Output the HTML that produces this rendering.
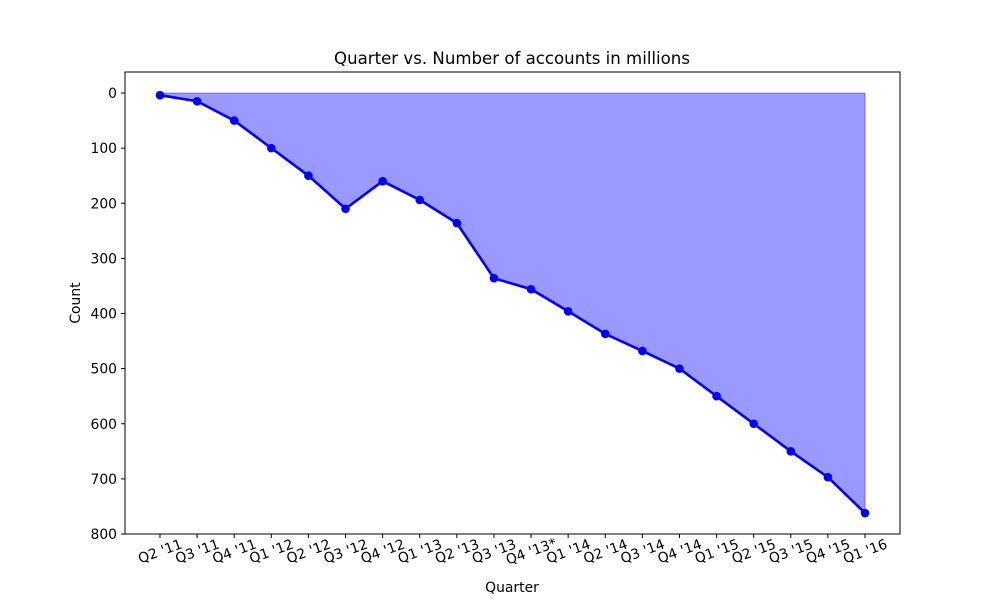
<!DOCTYPE html>
<html><head><meta charset="utf-8"><style>body{margin:0;background:#fff}svg{font-family:"DejaVu Sans","Liberation Sans",sans-serif}</style></head>
<body>
<svg id="c" width="1000" height="600"></svg>
<script>
const categories=["Q2 '11","Q3 '11","Q4 '11","Q1 '12","Q2 '12","Q3 '12","Q4 '12","Q1 '13","Q2 '13","Q3 '13","Q4 '13*","Q1 '14","Q2 '14","Q3 '14","Q4 '14","Q1 '15","Q2 '15","Q3 '15","Q4 '15","Q1 '16"];
const values=[4,15,50,100,150,210,160,194,236,336,356,396,437,468,500,550,600,650,697,762];
const yTicks=[0,100,200,300,400,500,600,700,800];
const NS="http://www.w3.org/2000/svg",svg=document.getElementById('c');
function el(t,a,p){const e=document.createElementNS(NS,t);for(const k in a)e.setAttribute(k,a[k]);(p||svg).appendChild(e);return e;}
const L=125,R=900,T=72,B=534;
const x=i=>160+i*(865-160)/(categories.length-1);
const y=v=>93+v*(534-93)/800;
let d=`M${x(0)},${y(0)}`;values.forEach((v,i)=>d+=`L${x(i)},${y(v)}`);d+=`L${x(values.length-1)},${y(0)}Z`;
const f=el('path',{d,fill:'rgba(0,0,255,0.4)',stroke:'rgba(0,0,255,0.4)'});


const ln=el('polyline',{points:values.map((v,i)=>x(i)+','+y(v)).join(' '),fill:'none',stroke:'#0000ff','stroke-width':2.6});


values.forEach((v,i)=>{const c=el('circle',{cx:x(i),cy:y(v),r:4.3,fill:'#0000ff'});

});
const fr=el('rect',{x:L,y:T,width:R-L,height:B-T,fill:'none',stroke:'#000','stroke-width':1});


yTicks.forEach(t=>{el('line',{x1:L-4,x2:L,y1:y(t),y2:y(t),stroke:'#000'});
const tx=el('text',{x:L-8,y:y(t)+5,'text-anchor':'end','font-size':13.9});tx.textContent=t;

});
categories.forEach((c,i)=>{el('line',{x1:x(i),x2:x(i),y1:B,y2:B+4,stroke:'#000'});
const tx=el('text',{x:x(i),y:B+22,'text-anchor':'middle','font-size':13.9,transform:`rotate(-20 ${x(i)} ${B+17})`});tx.textContent=c;

});
const ti=el('text',{x:512,y:64,'text-anchor':'middle','font-size':16.6});ti.textContent='Quarter vs. Number of accounts in millions';


const xt=el('text',{x:512,y:592,'text-anchor':'middle','font-size':13.9});xt.textContent='Quarter';


const yt=el('text',{x:80,y:303,'text-anchor':'middle','font-size':13.9,transform:'rotate(-90 80 303)'});yt.textContent='Count';


</script>
</body></html>
